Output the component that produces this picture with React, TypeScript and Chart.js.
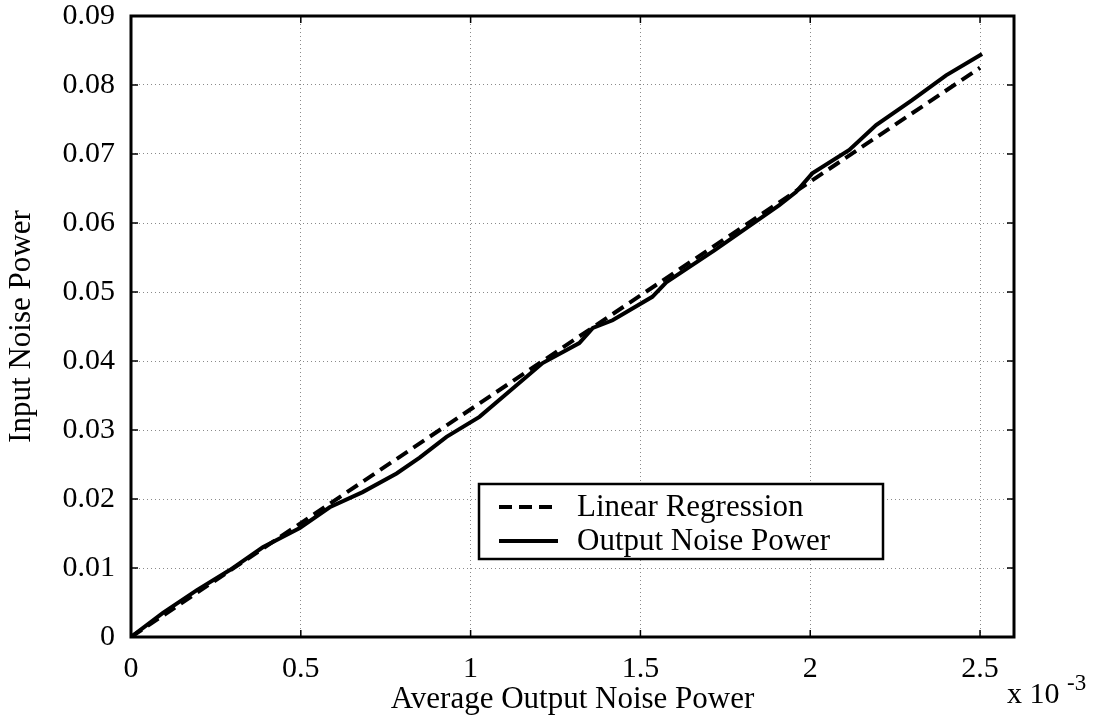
import React, { useEffect, useRef } from "react";
import { Chart, registerables } from "chart.js";

Chart.register(...registerables);

const X_TICKS = [0, 0.5, 1, 1.5, 2, 2.5];
const Y_TICKS = [0, 0.01, 0.02, 0.03, 0.04, 0.05, 0.06, 0.07, 0.08, 0.09];

const REG_X = [0, 2.5];
const REG_Y = [0, 0.0825];

const OUT_X = [0, 0.094, 0.194, 0.291, 0.388, 0.497, 0.585, 0.682, 0.782, 0.85, 0.929, 1.026, 1.212, 1.32, 1.36, 1.418, 1.535, 1.576, 1.72, 1.909, 1.958, 2.006, 2.115, 2.194, 2.3, 2.4, 2.506];
const OUT_Y = [0, 0.0035, 0.0068, 0.0097, 0.013, 0.0158, 0.0188, 0.021, 0.0237, 0.026, 0.029, 0.0319, 0.0397, 0.0426, 0.0448, 0.0459, 0.0493, 0.0514, 0.0561, 0.0626, 0.0645, 0.0672, 0.0706, 0.0742, 0.0778, 0.0814, 0.0845];

const SERIES_LABELS = ["Linear Regression", "Output Noise Power"];
const X_TITLE = "Average Output Noise Power";
const Y_TITLE = "Input Noise Power";
const X_EXP_BASE = "x 10";
const X_EXP_POW = "-3";

const FONT = "'Liberation Serif', 'Times New Roman', serif";
const DASH = [13, 7];

const framePlugin = {
  id: "frame",
  afterDraw(chart: any) {
    const { ctx, chartArea, scales } = chart;
    const { left, right, top, bottom } = chartArea;
    ctx.save();
    // inward ticks
    ctx.strokeStyle = "#000";
    ctx.lineWidth = 1.5;
    ctx.setLineDash([]);
    const tl = 7;
    X_TICKS.forEach((v) => {
      const px = scales.x.getPixelForValue(v);
      ctx.beginPath();
      ctx.moveTo(px, bottom);
      ctx.lineTo(px, bottom - tl);
      ctx.moveTo(px, top);
      ctx.lineTo(px, top + tl);
      ctx.stroke();
    });
    Y_TICKS.forEach((v) => {
      const py = scales.y.getPixelForValue(v);
      ctx.beginPath();
      ctx.moveTo(left, py);
      ctx.lineTo(left + tl, py);
      ctx.moveTo(right, py);
      ctx.lineTo(right - tl, py);
      ctx.stroke();
    });
    // frame
    ctx.lineWidth = 3;
    ctx.strokeRect(left, top, right - left, bottom - top);

    // exponent label
    ctx.fillStyle = "#000";
    ctx.textBaseline = "alphabetic";
    ctx.textAlign = "left";
    ctx.font = `30px ${FONT}`;
    ctx.fillText(X_EXP_BASE, 1007, 703);
    ctx.font = `23px ${FONT}`;
    ctx.fillText(X_EXP_POW, 1067, 690);

    // legend
    const bx = 479, by = 484, bw = 404, bh = 75;
    ctx.fillStyle = "#fff";
    ctx.fillRect(bx, by, bw, bh);
    ctx.lineWidth = 2.5;
    ctx.strokeStyle = "#000";
    ctx.strokeRect(bx, by, bw, bh);
    const rows = [507, 541];
    chart.data.datasets.forEach((ds: any, i: number) => {
      const y = rows[i];
      ctx.beginPath();
      ctx.lineWidth = ds.borderWidth;
      ctx.strokeStyle = ds.borderColor;
      ctx.setLineDash(ds.borderDash || []);
      ctx.moveTo(499, y);
      ctx.lineTo(558, y);
      ctx.stroke();
      ctx.setLineDash([]);
      ctx.fillStyle = "#000";
      ctx.font = `31px ${FONT}`;
      ctx.textBaseline = "middle";
      ctx.fillText(ds.label, 577, y + 1);
    });
    ctx.restore();
  },
};

export default function App() {
  const ref = useRef<HTMLCanvasElement | null>(null);

  useEffect(() => {
    document.body.style.margin = "0";
    const canvas = ref.current;
    if (!canvas) return;
    const chart = new Chart(canvas, {
      type: "line",
      data: {
        datasets: [
          {
            label: SERIES_LABELS[0],
            data: REG_X.map((x, i) => ({ x, y: REG_Y[i] })),
            borderColor: "#000",
            borderWidth: 4,
            borderDash: DASH,
            pointRadius: 0,
            fill: false,
            tension: 0,
          },
          {
            label: SERIES_LABELS[1],
            data: OUT_X.map((x, i) => ({ x, y: OUT_Y[i] })),
            borderColor: "#000",
            borderWidth: 4,
            pointRadius: 0,
            fill: false,
            tension: 0,
          },
        ],
      },
      options: {
        animation: false,
        responsive: false,
        parsing: false,
        layout: { padding: { top: 16, right: 85, left: 0, bottom: 0 } },
        plugins: {
          legend: { display: false },
          tooltip: { enabled: false },
        },
        scales: {
          x: {
            type: "linear",
            min: 0,
            max: 2.6,
            afterBuildTicks: (s: any) => {
              s.ticks = X_TICKS.map((v) => ({ value: v }));
            },
            afterFit: (s: any) => {
              s.height = 80;
              s.paddingLeft = 0;
              s.paddingRight = 0;
            },
            ticks: {
              color: "#000",
              padding: 14,
              maxRotation: 0,
              font: { family: FONT, size: 30 },
              callback: (v: any) => String(v),
            },
            grid: { color: "#8a8a8a", lineWidth: 1, drawTicks: false },
            border: { display: false, dash: [1, 3] },
            title: {
              display: true,
              text: X_TITLE,
              color: "#000",
              font: { family: FONT, size: 31, lineHeight: 1.1 },
              padding: { top: 0, bottom: 0 },
            },
          },
          y: {
            type: "linear",
            min: 0,
            max: 0.09,
            afterBuildTicks: (s: any) => {
              s.ticks = Y_TICKS.map((v) => ({ value: v }));
            },
            afterFit: (s: any) => {
              s.width = 131;
              s.paddingTop = 0;
              s.paddingBottom = 0;
            },
            ticks: {
              color: "#000",
              padding: 16,
              font: { family: FONT, size: 30 },
              callback: (v: any) => (v === 0 ? "0" : Number(v).toFixed(2)),
            },
            grid: { color: "#8a8a8a", lineWidth: 1, drawTicks: false },
            border: { display: false, dash: [1, 3] },
            title: {
              display: true,
              text: Y_TITLE,
              color: "#000",
              font: { family: FONT, size: 31, lineHeight: 1.1 },
              padding: { top: 5, bottom: 0 },
            },
          },
        },
      },
      plugins: [framePlugin],
    });
    return () => chart.destroy();
  }, []);

  return (
    <div style={{ width: 1099, height: 717, background: "#fff" }}>
      <canvas ref={ref} width={1099} height={717} />
    </div>
  );
}
